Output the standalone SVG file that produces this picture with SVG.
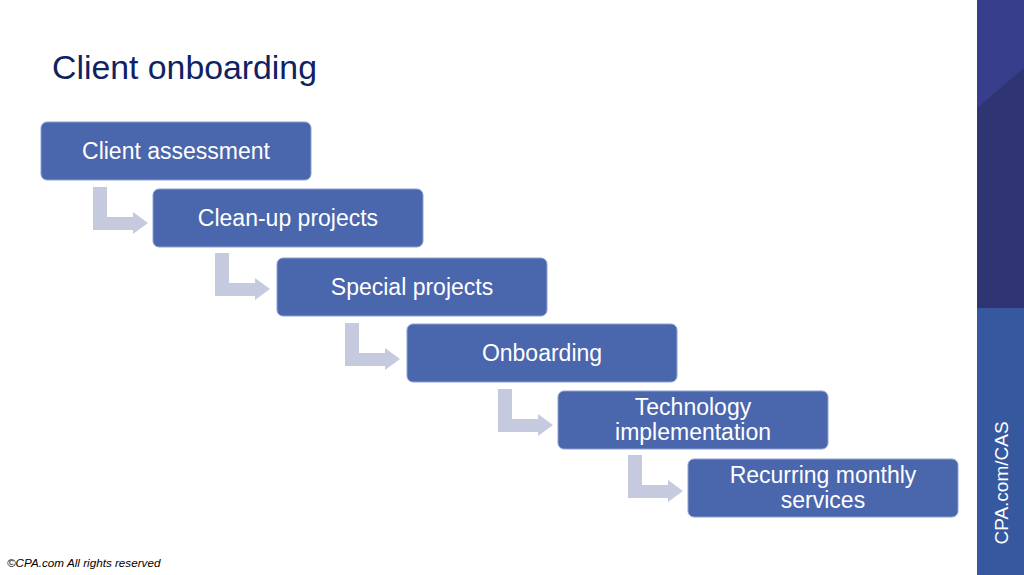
<svg xmlns="http://www.w3.org/2000/svg" width="1024" height="575" viewBox="0 0 1024 575">
<defs>
<style>
.box{fill:#4a66ad;stroke:#8ea0d0;stroke-width:1}
.lbl{font-family:"Liberation Sans",Arial,sans-serif;font-size:23px;fill:#ffffff;text-anchor:middle}
.arr{fill:#c6cade}
</style>
<path id="bend" d="M0,0 H14 V30 H40 V25 L55,36 L40,47 V43 H0 Z"/>
</defs>
<rect width="1024" height="575" fill="#ffffff"/>
<g id="sidebar">
<rect x="977" y="0" width="47" height="308" fill="#2e3572"/>
<path d="M977,0 H1024 V68 L977,108 Z" fill="#373f8c"/>
<rect x="977" y="308" width="47" height="267" fill="#35589f"/>
<text transform="translate(1008,483) rotate(-90)" font-family="Liberation Sans,Arial,sans-serif" font-size="19" fill="#ffffff" text-anchor="middle">CPA.com/CAS</text>
</g>
<text id="title" x="52" y="79" font-family="Liberation Sans,Arial,sans-serif" font-size="33.8" fill="#0f2262">Client onboarding</text>
<g id="connectors">
<use href="#bend" class="arr" x="93" y="187"/>
<use href="#bend" class="arr" x="215" y="253"/>
<use href="#bend" class="arr" x="345" y="323"/>
<use href="#bend" class="arr" x="498" y="389"/>
<use href="#bend" class="arr" x="628" y="455"/>
</g>
<g id="n1"><rect class="box" x="41" y="122" width="270" height="58" rx="6"/><text class="lbl" x="176" y="159">Client assessment</text></g>
<g id="n2"><rect class="box" x="153" y="189" width="270" height="58" rx="6"/><text class="lbl" x="288" y="226">Clean-up projects</text></g>
<g id="n3"><rect class="box" x="277" y="258" width="270" height="58" rx="6"/><text class="lbl" x="412" y="295">Special projects</text></g>
<g id="n4"><rect class="box" x="407" y="324" width="270" height="58" rx="6"/><text class="lbl" x="542" y="361">Onboarding</text></g>
<g id="n5"><rect class="box" x="558" y="391" width="270" height="58" rx="6"/><text class="lbl" x="693" y="415">Technology</text><text class="lbl" x="693" y="440">implementation</text></g>
<g id="n6"><rect class="box" x="688" y="459" width="270" height="58" rx="6"/><text class="lbl" x="823" y="483">Recurring monthly</text><text class="lbl" x="823" y="508">services</text></g>
<text id="footer" x="7" y="567" font-family="Liberation Sans,Arial,sans-serif" font-size="11.7" font-style="italic" fill="#000000">©CPA.com All rights reserved</text>
</svg>
